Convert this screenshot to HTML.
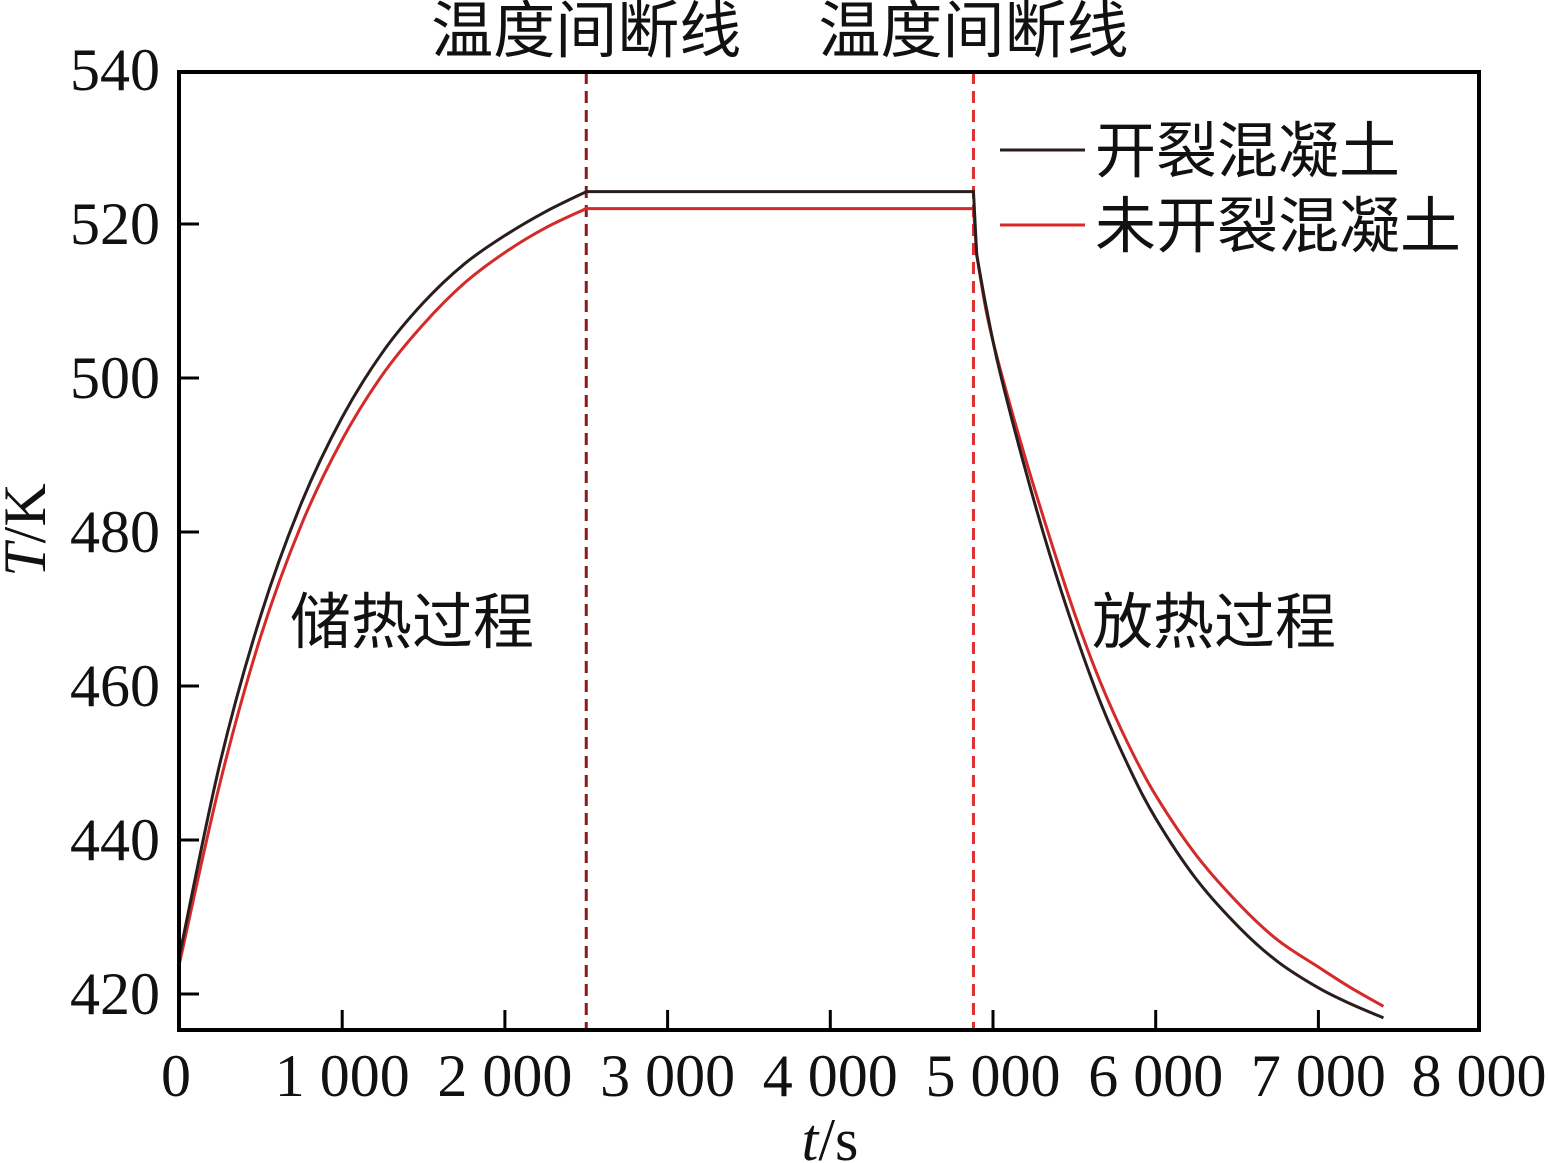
<!DOCTYPE html>
<html><head><meta charset="utf-8">
<style>
body{margin:0;background:#fff;}
svg{display:block;}
text{font-family:"Liberation Serif","Noto Serif CJK SC",serif;fill:#111;}
.cjk{font-family:"Liberation Sans","Noto Sans CJK SC",sans-serif;}
</style></head><body>
<svg id="chart" width="1549" height="1163" viewBox="0 0 1549 1163" xmlns="http://www.w3.org/2000/svg">
<g id="plot"></g>
</svg>
<script>
const xTicks=[0,1000,2000,3000,4000,5000,6000,7000,8000];
const xTickLabels=["0","1 000","2 000","3 000","4 000","5 000","6 000","7 000","8 000"];
const yTicks=[420,440,460,480,500,520,540];
const crackedT=[0,250,500,750,1000,1250,1500,1750,2000,2250,2500,4880,4900,4960,5040,5200,5350,5500,5660,5830,6000,6250,6520,6750,7000,7200,7400];
const crackedV=[425,450.1,469.2,483.8,494.9,503.4,509.8,514.8,518.5,521.6,524.2,524.2,516,509,501,488,477,467.2,457.9,449.7,442.8,434.9,428.5,424.2,420.8,418.7,416.9];
const uncrackedT=[0,250,500,750,1000,1250,1500,1750,2000,2250,2500,4880,4900,4960,5040,5200,5350,5500,5660,5830,6000,6250,6520,6750,7000,7200,7400];
const uncrackedV=[424,447.5,466.5,481,492,500.5,507,512.3,516.3,519.5,522,522,516,508.5,501.5,489.5,479.2,469.5,460.5,452.5,445.8,438,431.5,427,423.5,420.8,418.4];
const dividers=[2500,4880];

const X0=179.5,XS=162.7/1000,Y540=70,YS=7.7;
const xs=t=>X0+t*XS, ys=v=>Y540+(540-v)*YS;
const NS="http://www.w3.org/2000/svg";
const g=document.getElementById('plot');
function mk(tag,attrs,txt){const e=document.createElementNS(NS,tag);for(const k in attrs)e.setAttribute(k,attrs[k]);if(txt!==undefined)e.textContent=txt;g.appendChild(e);return e;}
function path(T,V){
  const p=T.map((t,i)=>[xs(t),ys(V[i])]);
  let d=`M${p[0][0]},${p[0][1]}`;
  for(let i=0;i<p.length-1;i++){
    const a=p[Math.max(i-1,0)],b=p[i],c=p[i+1],e=p[Math.min(i+2,p.length-1)];
    if(T[i]===2500||T[i]===4880){d+=` L${c[0]},${c[1]}`;continue;}
    const a2=(i>0&&T[i-1]===4880)?b:a, e2=(T[i+1]===2500)?c:e;
    d+=` C${b[0]+(c[0]-a2[0])/6},${b[1]+(c[1]-a2[1])/6} ${c[0]-(e2[0]-b[0])/6},${c[1]-(e2[1]-b[1])/6} ${c[0]},${c[1]}`;
  }
  return d;
}
dividers.forEach((t,i)=>{
  const l=mk('line',{x1:xs(t),x2:xs(t),y1:72,y2:1030,stroke:i===0?'#8b1a1a':'#e0302f','stroke-width':3,'stroke-dasharray':'12,7'});
  
  
  const tx=mk('text',{x:xs(t),y:52,'text-anchor':'middle','font-size':62,class:'cjk'},'温度间断线');
  
  
});
const pr=mk('path',{d:path(uncrackedT,uncrackedV),fill:'none',stroke:'#d42a2a','stroke-width':3});


const pb=mk('path',{d:path(crackedT,crackedV),fill:'none',stroke:'#2a1d1d','stroke-width':3});


const fr=mk('rect',{x:179,y:72,width:1300,height:958,fill:'none',stroke:'#000','stroke-width':4});


xTicks.forEach((t,i)=>{
  if(i>0&&i<xTicks.length-1){const tk=mk('line',{x1:xs(t),x2:xs(t),y1:1030,y2:1010,stroke:'#000','stroke-width':3});
  
  }
  const lb=mk('text',{x:i===0?176:(i===8?1479:xs(t)),y:1096,'text-anchor':'middle','font-size':60},xTickLabels[i]);
  
  
});
yTicks.forEach(v=>{
  if(v!==540){const tk=mk('line',{x1:179,x2:199,y1:ys(v),y2:ys(v),stroke:'#000','stroke-width':3});
  
  }
  const lb=mk('text',{x:160,y:ys(v)+20,'text-anchor':'end','font-size':60},String(v));
  
  
});
const xt=mk('text',{x:830,y:1160,'text-anchor':'middle','font-size':60});
xt.innerHTML='<tspan font-style="italic">t</tspan>/s';


const yt=mk('text',{x:0,y:0,'text-anchor':'middle','font-size':60,transform:'translate(45,530) rotate(-90)'});
yt.innerHTML='<tspan font-style="italic">T</tspan>/K';


[['开裂混凝土','#2a1d1d',150],['未开裂混凝土','#d42a2a',225]].forEach(([n,c,y])=>{
  const l=mk('line',{x1:1000,x2:1085,y1:y,y2:y,stroke:c,'stroke-width':3});
  
  
  const t=mk('text',{x:1095,y:y+22,'font-size':61,class:'cjk'},n);
  
  
});
const a1=mk('text',{x:290,y:643,'font-size':61,class:'cjk'},'储热过程');


const a2=mk('text',{x:1092,y:643,'font-size':61,class:'cjk'},'放热过程');


</script>
</body></html>
